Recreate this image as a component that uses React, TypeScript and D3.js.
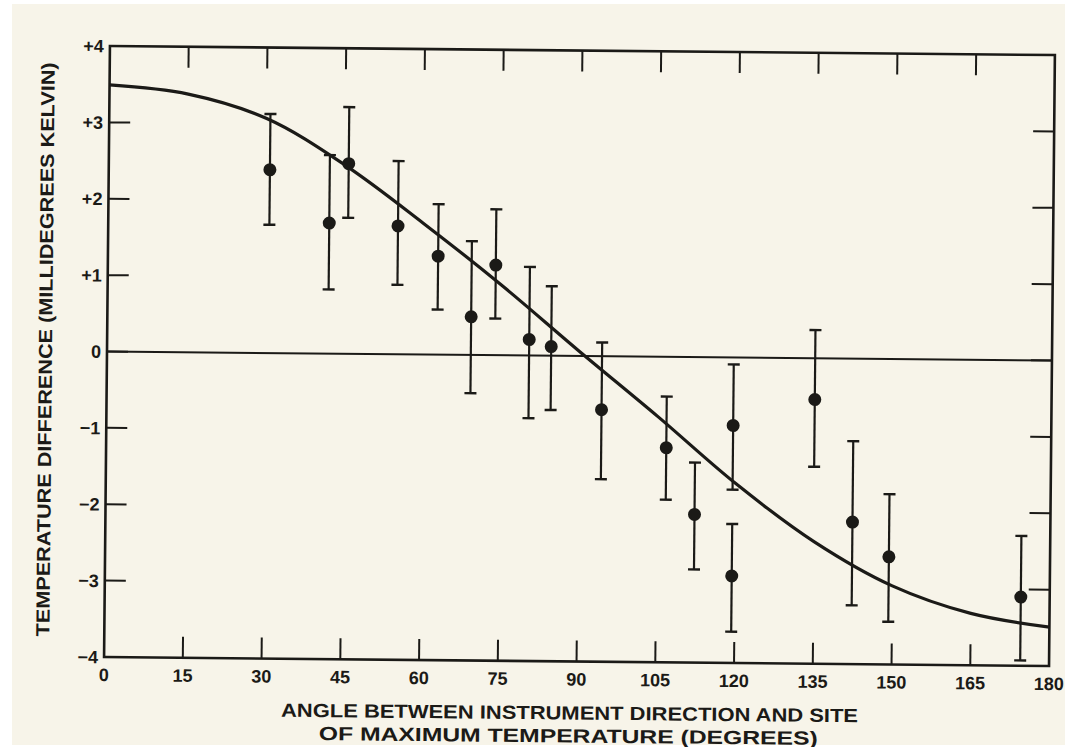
import React from "react";
import * as d3 from "d3";

// ---- data ----
const angles = [30.7, 42.1, 45.7, 55.2, 62.9, 69.3, 73.9, 80.4, 84.6, 94.3, 106.7, 112.2, 119.4, 119.4, 134.9, 142.3, 149.3, 174.5];
const values = [2.4, 1.71, 2.49, 1.68, 1.29, 0.5, 1.18, 0.21, 0.12, -0.7, -1.19, -2.06, -0.89, -2.86, -0.54, -2.14, -2.59, -3.1];
const errUp = [3.13, 2.6, 3.23, 2.53, 1.97, 1.49, 1.91, 1.16, 0.91, 0.18, -0.52, -1.38, -0.09, -2.18, 0.37, -1.08, -1.77, -2.3];
const errDown = [1.68, 0.84, 1.78, 0.91, 0.59, -0.5, 0.48, -0.82, -0.71, -1.61, -1.87, -2.78, -1.73, -3.59, -1.42, -3.23, -3.44, -3.93];

const curveAngles = [0, 15, 30, 45, 60, 75, 90, 105, 120, 135, 150, 165, 180];
const curveValues = [3.49, 3.38, 3.07, 2.47, 1.72, 0.92, 0.06, -0.78, -1.65, -2.4, -2.97, -3.32, -3.49];

const xTickValues = [0, 15, 30, 45, 60, 75, 90, 105, 120, 135, 150, 165, 180];
const xTickLabels = ["0", "15", "30", "45", "60", "75", "90", "105", "120", "135", "150", "165", "180"];
const yTickValues = [4, 3, 2, 1, 0, -1, -2, -3, -4];
const yTickLabels = ["+4", "+3", "+2", "+1", "0", "\u22121", "\u22122", "\u22123", "\u22124"];

const xTitle1 = "ANGLE BETWEEN INSTRUMENT DIRECTION AND SITE";
const xTitle2 = "OF MAXIMUM TEMPERATURE (DEGREES)";
const yTitle = "TEMPERATURE DIFFERENCE (MILLIDEGREES KELVIN)";

const W = 1069;
const H = 747;
const INK = "#1b1a17";
const PAPER = "#f7f4e9";
const FONT = "'Liberation Sans', Arial, sans-serif";

export default function App() {
  const x = d3.scaleLinear().domain([0, 180]).range([107, 1052]);
  const y = d3.scaleLinear().domain([-4, 4]).range([657, 46]);
  const [x0, x1] = x.range();
  const [y0, y1] = [y(4), y(-4)];
  const tick = 21;

  const line = d3
    .line<number>()
    .x((_, i) => x(curveAngles[i]))
    .y((d) => y(d))
    .curve(d3.curveCatmullRom.alpha(0.5));

  const cap = 6;

  return (
    <svg
      width={W}
      height={H}
      style={{ position: "absolute", left: 0, top: 0, background: "#ffffff" }}
    >
      <rect x={12} y={4} width={W - 16} height={H - 6} fill={PAPER} />
      <g transform={`rotate(0.55, ${x(0)}, ${y(0)})`}>
        {/* frame */}
        <rect x={x0} y={y0} width={x1 - x0} height={y1 - y0} fill="none" stroke={INK} strokeWidth={2.6} />
        {/* zero line */}
        <line x1={x0} x2={x1} y1={y(0)} y2={y(0)} stroke={INK} strokeWidth={2} />

        {/* x ticks (bottom + top, inward) */}
        {xTickValues.slice(1, -1).map((v) => (
          <g key={"xt" + v}>
            <line x1={x(v)} x2={x(v)} y1={y1} y2={y1 - tick} stroke={INK} strokeWidth={2} />
            <line x1={x(v)} x2={x(v)} y1={y0} y2={y0 + tick} stroke={INK} strokeWidth={2} />
          </g>
        ))}
        {/* y ticks (left + right, inward) */}
        {yTickValues.slice(1, -1).map((v) => (
          <g key={"yt" + v}>
            <line x1={x0} x2={x0 + tick} y1={y(v)} y2={y(v)} stroke={INK} strokeWidth={2} />
            <line x1={x1} x2={x1 - tick} y1={y(v)} y2={y(v)} stroke={INK} strokeWidth={2} />
          </g>
        ))}

        {/* x tick labels */}
        {xTickValues.map((v, i) => (
          <text
            key={"xl" + v}
            x={x(v)}
            y={681}
            textAnchor="middle"
            fontFamily={FONT}
            fontWeight="bold"
            fontSize={18}
            fill={INK}
          >
            {xTickLabels[i]}
          </text>
        ))}
        {/* y tick labels */}
        {yTickValues.map((v, i) => (
          <text
            key={"yl" + v}
            x={101}
            y={y(v)}
            dy="0.36em"
            textAnchor="end"
            fontFamily={FONT}
            fontWeight="bold"
            fontSize={18}
            fill={INK}
          >
            {yTickLabels[i]}
          </text>
        ))}

        {/* fitted curve */}
        <path d={line(curveValues) || ""} fill="none" stroke={INK} strokeWidth={3.2} strokeLinejoin="round" />

        {/* error bars and points */}
        {angles.map((a, i) => (
          <g key={"p" + i}>
            <line x1={x(a)} x2={x(a)} y1={y(errUp[i])} y2={y(errDown[i])} stroke={INK} strokeWidth={2.2} />
            <line x1={x(a) - cap} x2={x(a) + cap} y1={y(errUp[i])} y2={y(errUp[i])} stroke={INK} strokeWidth={2.4} />
            <line x1={x(a) - cap} x2={x(a) + cap} y1={y(errDown[i])} y2={y(errDown[i])} stroke={INK} strokeWidth={2.4} />
            <circle cx={x(a)} cy={y(values[i])} r={6.5} fill={INK} />
          </g>
        ))}

        {/* axis titles */}
        <text
          x={573}
          y={715}
          textAnchor="middle"
          fontFamily={FONT}
          fontWeight="bold"
          fontSize={19}
          fill={INK}
          textLength={577}
          lengthAdjust="spacingAndGlyphs"
        >
          {xTitle1}
        </text>
        <text
          x={572}
          y={738}
          textAnchor="middle"
          fontFamily={FONT}
          fontWeight="bold"
          fontSize={19}
          fill={INK}
          textLength={499}
          lengthAdjust="spacingAndGlyphs"
        >
          {xTitle2}
        </text>
        <text
          transform={`translate(52, 350) rotate(-90)`}
          textAnchor="middle"
          fontFamily={FONT}
          fontWeight="bold"
          fontSize={19}
          fill={INK}
          textLength={574}
          lengthAdjust="spacingAndGlyphs"
        >
          {yTitle}
        </text>
      </g>
    </svg>
  );
}
